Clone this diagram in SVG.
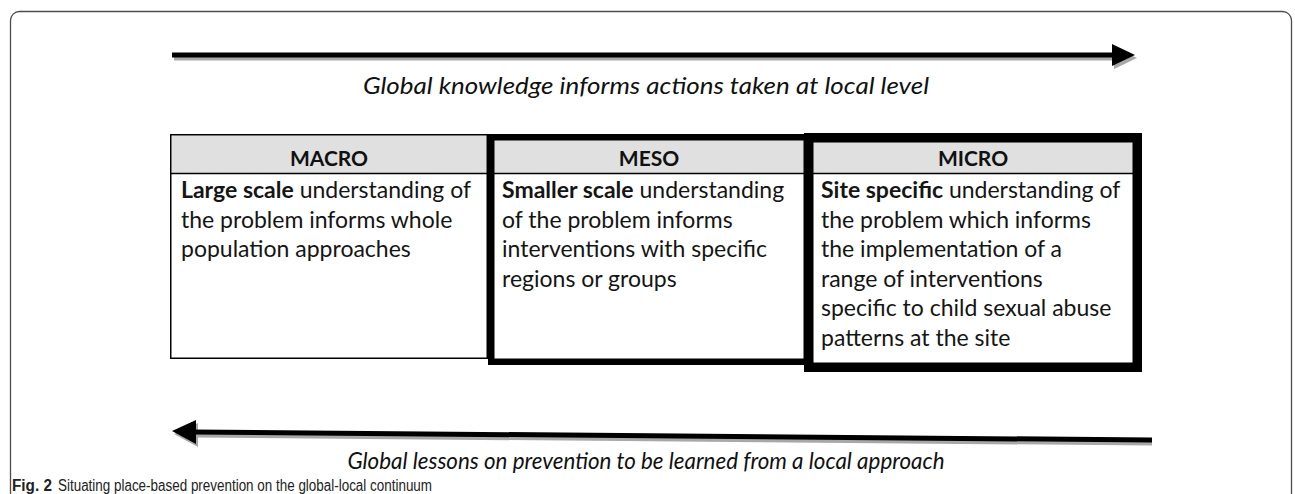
<svg xmlns="http://www.w3.org/2000/svg" width="1295" height="494" viewBox="0 0 1295 494">
  <style>
    .frame { fill: #ffffff; stroke: #4d4d4d; stroke-width: 1.3; }
    .hdr-fill { fill: #e0e0e0; }
    .cell { fill: none; stroke: #000000; }
    .hdr { font-family: Lato, "Liberation Sans", sans-serif; font-size: 21px; font-weight: bold; fill: #111111; text-anchor: middle; }
    .body { font-family: Lato, "Liberation Sans", sans-serif; font-size: 23px; fill: #151515; }
    .body .b { font-weight: bold; }
    .flow { font-family: Lato, "Liberation Sans", sans-serif; font-size: 23px; font-style: italic; fill: #111111; text-anchor: middle; }
    .cap { font-family: "Liberation Sans", Arial, sans-serif; font-size: 16px; fill: #222222; }
    .shaft { stroke: #000000; stroke-width: 5; fill: none; }
    .shaft-sh { stroke: #a8a8a8; stroke-width: 5; fill: none; }
    .head { fill: #000000; }
    .head-sh { fill: #a8a8a8; }
  </style>

  <!-- figure frame, rounded at the top, running off the bottom edge -->
  <rect class="frame" x="10.5" y="11.5" width="1281" height="530" rx="9"/>

  <!-- direction arrows -->
  <g id="connectors">
    <g id="arrow-global-to-local">
      <line class="shaft-sh" x1="174" y1="58" x2="1115" y2="58"/>
      <polygon class="head-sh" points="1114,47 1137,58 1114,69"/>
      <line class="shaft" x1="172" y1="55" x2="1113" y2="55"/>
      <polygon class="head" points="1112,44 1135,55 1112,66"/>
    </g>
    <g id="arrow-local-to-global">
      <line class="shaft-sh" x1="1152" y1="443" x2="196" y2="435"/>
      <polygon class="head-sh" points="198,423 174,434 198,447"/>
      <line class="shaft" x1="1152" y1="440" x2="194" y2="432"/>
      <polygon class="head" points="196,420 172,431 196,444"/>
    </g>
  </g>

  <text class="flow" x="646" y="94" textLength="566" lengthAdjust="spacingAndGlyphs">Global knowledge informs actions taken at local level</text>
  <text class="flow" x="646" y="469" textLength="597" lengthAdjust="spacingAndGlyphs">Global lessons on prevention to be learned from a local approach</text>

  <!-- MACRO column -->
  <g id="macro">
    <rect class="hdr-fill" x="171.5" y="135.5" width="315" height="38"/>
    <rect class="cell" x="170.75" y="134.75" width="316.5" height="223.5" stroke-width="1.5"/>
    <line class="cell" x1="170" y1="173.5" x2="488" y2="173.5" stroke-width="1.5"/>
    <text class="hdr" x="329" y="166">MACRO</text>
    <text class="body" x="181">
      <tspan x="181" y="198"><tspan class="b">Large scale</tspan> understanding of</tspan>
      <tspan x="181" y="227.5">the problem informs whole</tspan>
      <tspan x="181" y="257">population approaches</tspan>
    </text>
  </g>

  <!-- MESO column -->
  <g id="meso">
    <rect class="hdr-fill" x="494" y="140" width="312" height="33"/>
    <rect class="cell" x="491.25" y="137.25" width="315.5" height="224.5" stroke-width="6.5"/>
    <line class="cell" x1="494" y1="173.5" x2="806" y2="173.5" stroke-width="1.5"/>
    <text class="hdr" x="649" y="166">MESO</text>
    <text class="body" x="502">
      <tspan x="502" y="198"><tspan class="b">Smaller scale</tspan> understanding</tspan>
      <tspan x="502" y="227.5">of the problem informs</tspan>
      <tspan x="502" y="257">interventions with specific</tspan>
      <tspan x="502" y="286.5">regions or groups</tspan>
    </text>
  </g>

  <!-- MICRO column -->
  <g id="micro">
    <rect class="hdr-fill" x="813" y="142" width="320" height="31"/>
    <rect class="cell" x="808.75" y="137.75" width="328.5" height="229.5" stroke-width="9.5"/>
    <line class="cell" x1="813" y1="173.5" x2="1133" y2="173.5" stroke-width="1.5"/>
    <text class="hdr" x="973" y="166">MICRO</text>
    <text class="body" x="821">
      <tspan x="821" y="198"><tspan class="b">Site specific</tspan> understanding of</tspan>
      <tspan x="821" y="227.5">the problem which informs</tspan>
      <tspan x="821" y="257">the implementation of a</tspan>
      <tspan x="821" y="286.5">range of interventions</tspan>
      <tspan x="821" y="316">specific to child sexual abuse</tspan>
      <tspan x="821" y="345.5">patterns at the site</tspan>
    </text>
  </g>

  <!-- caption -->
  <text class="cap" x="12" y="491" font-weight="bold" textLength="40" lengthAdjust="spacingAndGlyphs">Fig. 2</text>
  <text class="cap" x="58" y="491" textLength="374" lengthAdjust="spacingAndGlyphs">Situating place-based prevention on the global-local continuum</text>
</svg>
